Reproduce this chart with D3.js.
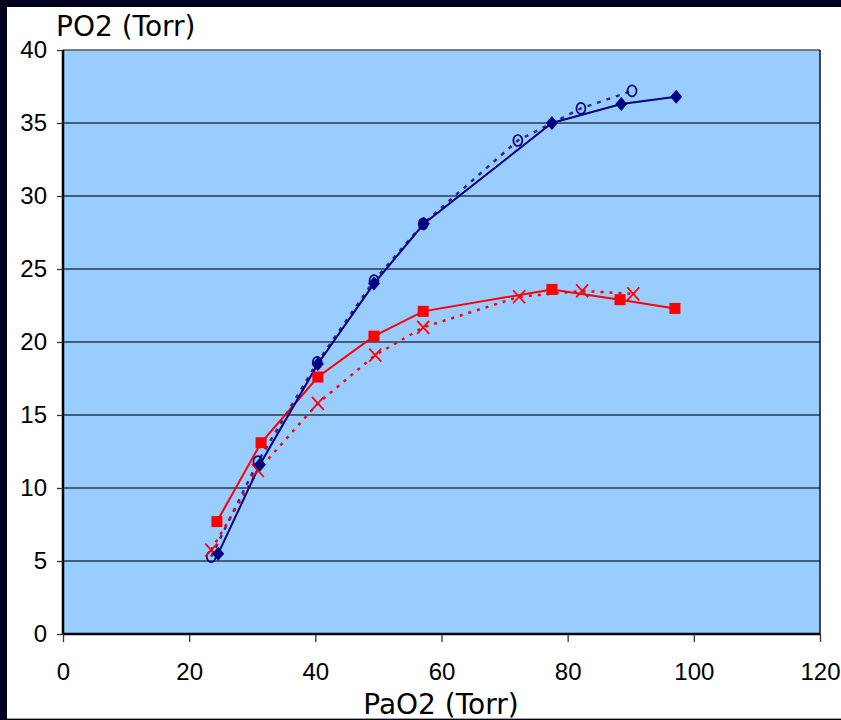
<!DOCTYPE html>
<html><head><meta charset="utf-8">
<script src="https://cdn.jsdelivr.net/npm/d3@7"></script>
<style>html,body{margin:0;padding:0;background:#02021f;}svg{display:block;}</style>
</head><body>
<script>
// Data
const blueSolidX = [24.6, 31.2, 40.4, 49.3, 57.2, 77.5, 88.5, 97.2];
const blueSolidY = [5.5, 11.6, 18.5, 24.0, 28.1, 35.0, 36.3, 36.8];
const blueDotX   = [23.5, 30.9, 40.3, 49.3, 57.1, 72.1, 82.1, 90.2];
const blueDotY   = [5.3, 11.8, 18.6, 24.2, 28.1, 33.8, 36.0, 37.2];
const redSolidX  = [24.4, 31.4, 40.4, 49.3, 57.1, 77.5, 88.3, 97.0];
const redSolidY  = [7.7, 13.1, 17.6, 20.4, 22.1, 23.6, 22.9, 22.3];
const redDotX    = [23.5, 30.9, 40.4, 49.5, 57.1, 72.3, 82.3, 90.4];
const redDotY    = [5.75, 11.2, 15.8, 19.1, 21.0, 23.1, 23.5, 23.3];
const xTicks = [0, 20, 40, 60, 80, 100, 120];
const yTicks = [0, 5, 10, 15, 20, 25, 30, 35, 40];
const yTitle = "PO2 (Torr)";
const xTitle = "PaO2 (Torr)";

const W = 841, H = 720;
const svg = d3.select("body").append("svg").attr("width", W).attr("height", H);
// outer dark border + white panel
svg.append("rect").attr("width", W).attr("height", H).attr("fill", "#02021f");
svg.append("rect").attr("x", 7).attr("y", 7).attr("width", W - 7).attr("height", 711).attr("fill", "#ffffff");
svg.append("line").attr("x1", 7).attr("x2", W).attr("y1", 718.5).attr("y2", 718.5).attr("stroke", "#a0a0a0").attr("stroke-width", 1);

const L = 63, R = 820, T = 50, B = 634;
const x = d3.scaleLinear().domain([0, 120]).range([L, R]);
const y = d3.scaleLinear().domain([0, 40]).range([B, T]);

svg.append("rect").attr("x", L).attr("y", T).attr("width", R - L).attr("height", B - T).attr("fill", "#99ccff");

// gridlines
svg.append("g").selectAll("line").data(yTicks.filter(d => d > 0 && d < 40)).join("line")
  .attr("x1", L).attr("x2", R).attr("y1", d => y(d)).attr("y2", d => y(d))
  .attr("stroke", "#2a3a4a").attr("stroke-width", 1.3);

// frame
svg.append("line").attr("x1", L).attr("x2", R).attr("y1", T).attr("y2", T).attr("stroke", "#555").attr("stroke-width", 1.5);
svg.append("line").attr("x1", R).attr("x2", R).attr("y1", T).attr("y2", B).attr("stroke", "#111").attr("stroke-width", 1.5);

// axes
const fontTick = "'Liberation Sans Narrow','Liberation Sans',Arial,sans-serif";
const yAxis = svg.append("g").attr("transform", `translate(${L},0)`)
  .call(d3.axisLeft(y).tickValues(yTicks).tickSize(6).tickPadding(10).tickFormat(d3.format("d")));
const xAxis = svg.append("g").attr("transform", `translate(0,${B})`)
  .call(d3.axisBottom(x).tickValues(xTicks).tickSize(8).tickPadding(21).tickFormat(d3.format("d")));
[yAxis, xAxis].forEach(a => {
  a.select(".domain").attr("stroke", "#000").attr("stroke-width", 2.5);
  a.selectAll(".tick line").attr("stroke", "#333").attr("stroke-width", 1.3);
  a.selectAll("text").attr("fill", "#000").style("font-family", fontTick).style("font-size", "24px");
});
xAxis.select(".domain").attr("d", `M${L},0H${R}`);
yAxis.select(".domain").attr("d", `M0,${T}V${B}`);

// lines
const line = d3.line().x(d => x(d[0])).y(d => y(d[1]));
const zip = (a, b) => a.map((v, i) => [v, b[i]]);
const blueSolid = zip(blueSolidX, blueSolidY), blueDot = zip(blueDotX, blueDotY);
const redSolid = zip(redSolidX, redSolidY), redDot = zip(redDotX, redDotY);

svg.append("path").datum(blueDot).attr("d", line).attr("fill", "none")
  .attr("stroke", "#2a2a99").attr("stroke-width", 2.5).attr("stroke-dasharray", "4,6");
svg.append("path").datum(redDot).attr("d", line).attr("fill", "none")
  .attr("stroke", "#ff0000").attr("stroke-width", 2.5).attr("stroke-dasharray", "3,6");
svg.append("path").datum(redSolid).attr("d", line).attr("fill", "none")
  .attr("stroke", "#ff0000").attr("stroke-width", 2);
svg.append("path").datum(blueSolid).attr("d", line).attr("fill", "none")
  .attr("stroke", "#000080").attr("stroke-width", 2);

// markers
svg.append("g").selectAll("ellipse").data(blueDot).join("ellipse")
  .attr("cx", d => x(d[0])).attr("cy", d => y(d[1])).attr("rx", 4.5).attr("ry", 5.5)
  .attr("fill", "none").attr("stroke", "#000080").attr("stroke-width", 1.7);
svg.append("g").selectAll("path").data(redDot).join("path")
  .attr("transform", d => `translate(${x(d[0])},${y(d[1])})`)
  .attr("d", "M-6,-6.5L6,6.5M-6,6.5L6,-6.5").attr("stroke", "#ff0000").attr("stroke-width", 1.7);
svg.append("g").selectAll("rect").data(redSolid).join("rect")
  .attr("x", d => x(d[0]) - 5.5).attr("y", d => y(d[1]) - 5.5).attr("width", 11).attr("height", 11)
  .attr("fill", "#ff0000");
svg.append("g").selectAll("path").data(blueSolid).join("path")
  .attr("transform", d => `translate(${x(d[0])},${y(d[1])})`)
  .attr("d", "M0,-7L6,0L0,7L-6,0Z").attr("fill", "#000080");

// titles
const fontTitle = "'DejaVu Sans',Verdana,sans-serif";
svg.append("text").attr("x", 56).attr("y", 36).text(yTitle)
  .style("font-family", fontTitle).style("font-size", "28px").attr("fill", "#000");
svg.append("text").attr("x", 441).attr("y", 714).attr("text-anchor", "middle").text(xTitle)
  .style("font-family", fontTitle).style("font-size", "28px").attr("fill", "#000");
</script>
</body></html>
